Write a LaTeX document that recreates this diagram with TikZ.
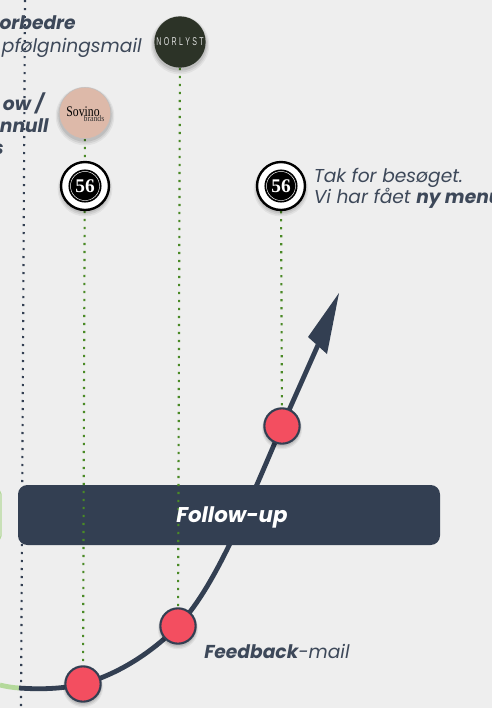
\documentclass[tikz,border=0pt]{standalone}
\usepackage{fontspec}
\setmainfont{Poppins}
\newfontfamily\logoserif{Liberation Serif}
\newfontfamily\logosans{Liberation Sans}
\usetikzlibrary{shadows}
\pgfdeclarelayer{paper}\pgfdeclarelayer{back}\pgfdeclarelayer{mid}
\pgfsetlayers{paper,back,mid,main}
\definecolor{pagebg}{HTML}{EEEEEE}
\definecolor{navy}{HTML}{333F52}
\definecolor{inktxt}{HTML}{3D4859}
\definecolor{redpt}{HTML}{F34E60}
\definecolor{leaf}{HTML}{4A8A26}
\definecolor{lightleaf}{HTML}{B4D99B}
\definecolor{norl}{HTML}{2C3327}
\definecolor{sovi}{HTML}{DDB9A9}
\tikzset{
  px/.style={x=0.75pt,y=-0.75pt},
  softshadow/.style={
    general shadow={fill=black,opacity=.05,shadow scale=1.14,shadow yshift=-2pt},
    general shadow={fill=black,opacity=.07,shadow scale=1.09,shadow yshift=-1.8pt},
    general shadow={fill=black,opacity=.09,shadow scale=1.04,shadow yshift=-1.5pt}},
  logodot/.style={circle,inner sep=0pt,minimum size=38.5pt,softshadow},
  redpoint/.style={circle,draw=navy,line width=1.6pt,fill=redpt,inner sep=0pt,minimum size=26.5pt,softshadow},
  badge/.style={circle,draw=black,fill=white,line width=1.8pt,inner sep=0pt,minimum size=36pt,softshadow},
  dotgreen/.style={draw=leaf,line width=1.6pt,dash pattern=on 1.6pt off 4.4pt},
  dotnavy/.style={draw=navy,line width=1.6pt,dash pattern=on 1.6pt off 4.4pt},
  label/.style={inner sep=0pt,text=inktxt,font=\fontsize{14pt}{15.8pt}\selectfont\itshape},
  leftlab/.style={label,anchor=base east,font=\fontsize{14pt}{15pt}\selectfont\bfseries\itshape},
  pathline/.style={draw=navy,line width=3.6pt,line cap=butt},
}
\newcommand{\badgetext}{\begin{tikzpicture}[baseline=(t.base)]
  \fill[black] (0,0) circle (12.4pt);
  \draw[white,line width=.35pt] (0,0) circle (10.9pt);
  \node (t) at (0,0) [inner sep=0pt,text=white,font=\logoserif\bfseries\fontsize{14.5pt}{14.5pt}\selectfont] {56};
\end{tikzpicture}}
\begin{document}
\begin{tikzpicture}[px]
\useasboundingbox (0,0) rectangle (492,708);
\begin{pgfonlayer}{paper}
\fill[pagebg] (0,0) rectangle (492,708);
\end{pgfonlayer}

% nodes
\node[logodot,fill=norl] (norlyst) at (180,42) {};
\node[inner sep=0pt,text=white!85!norl,font=\logosans\fontsize{8.5pt}{8.5pt}\selectfont] (norlysttext) at (180,42) {\scalebox{.62}[1]{N\,\,O\,\,R\,\,L\,\,Y\,\,S\,\,T}};
\node[logodot,fill=sovi,draw=black!25,line width=.3pt] (sovino) at (85,113) {};
\node[inner sep=0pt,text=black,font=\logoserif\fontsize{11pt}{11pt}\selectfont] (sovinotext) at (83,112) {\scalebox{.8}[1]{Sovino}};
\node[inner sep=0pt,text=black!80,font=\logoserif\fontsize{6.5pt}{6.5pt}\selectfont] (brandstext) at (94,118.5) {\scalebox{.9}[1]{brands}};
\node[badge] (badgeA) at (85,186) {};
\node[inner sep=0pt] (badgeAt) at (85,186) {\badgetext};
\node[badge] (badgeB) at (281,186) {};
\node[inner sep=0pt] (badgeBt) at (281,186) {\badgetext};
\node[redpoint] (r1) at (83,684) {};
\node[redpoint] (r2) at (178,626) {};
\node[redpoint] (r3) at (282,426) {};
\coordinate (dotA) at (25,0);
\coordinate (dotB) at (21,708);
\coordinate (greenstart) at (0,685);
\coordinate (darkstart) at (19,688);
\coordinate (shaftend) at (318,345);

\begin{pgfonlayer}{back}
  \draw[draw=lightleaf,line width=3.6pt] (greenstart) .. controls (6,686.5) and (12,687.5) .. (darkstart);
  \draw[pathline] (darkstart) .. controls (40,689.5) and (62,689) .. (r1.center)
     .. controls (118,674) and (150,654) .. (r2.center)
     .. controls (212,590) and (240,525) .. (r3.center) -- (shaftend);
  \fill[navy] (339,293) -- (308,337) -- (327,354) -- cycle;
  \draw[dotnavy] (dotA) -- (dotB);
\end{pgfonlayer}

\begin{pgfonlayer}{mid}
  \node[draw=lightleaf,line width=.8pt,fill=pagebg,rounded corners=3pt,minimum width=30pt,minimum height=37.5pt,inner sep=0pt] (greenbox) at (-19,515) {};
  \node[fill=navy,rounded corners=7pt,minimum width=316.5pt,minimum height=45pt,inner sep=0pt] (follow) at (229,515) {};
  \draw[dotgreen] (sovino) -- (r1);
  \draw[dotgreen] (norlyst) -- (r2);
  \draw[dotgreen] (badgeB) -- (r3);
\end{pgfonlayer}

% labels
\node[inner sep=0pt,anchor=base,text=white,font=\fontsize{16pt}{18pt}\selectfont\bfseries\itshape] (followtext) at (232,522) {Follow-up};
\node[label,anchor=base west] (feedback) at (204,658) {\textbf{Feedback}-mail};
\node[label,anchor=west,align=left] (tak) at (313.5,188) {Tak for besøget.\\Vi har fået \textbf{ny menu}};
\node[leftlab] (l1) at (76,29) {orbedre};
\node[label,anchor=base east,font=\fontsize{14pt}{15pt}\selectfont\itshape] (l2) at (142,52) {pfølgningsmail};
\node[leftlab] (l3) at (44,110) {ow /};
\node[leftlab] (l4) at (49,132) {nnull};
\node[leftlab] (l5) at (4,154) {s};
\end{tikzpicture}
\end{document}
